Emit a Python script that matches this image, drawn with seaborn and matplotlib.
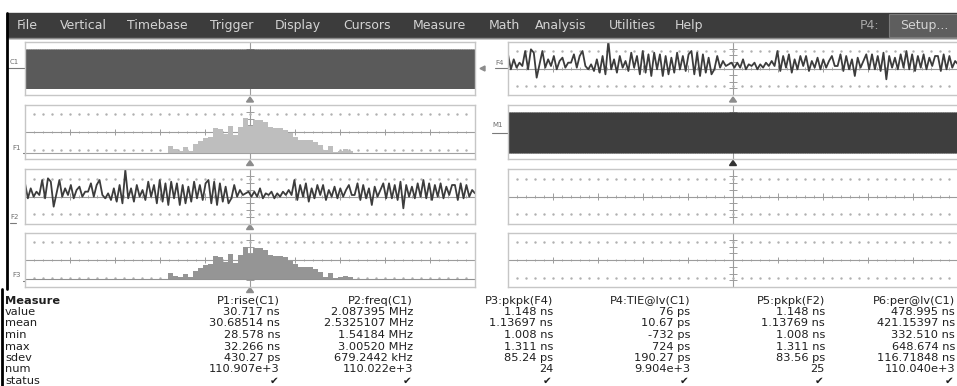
import numpy as np
import pandas as pd
import seaborn as sns
import matplotlib.pyplot as plt
from matplotlib.patches import Rectangle, Polygon

sns.set_style("white")
plt.rcParams['font.family'] = ['DejaVu Sans']

W, H = 957, 386

# ---- data ----
menu_items = ["File", "Vertical", "Timebase", "Trigger", "Display", "Cursors",
              "Measure", "Math", "Analysis", "Utilities", "Help"]

measure_params = ["P1:rise(C1)", "P2:freq(C1)", "P3:pkpk(F4)",
                  "P4:TIE@lv(C1)", "P5:pkpk(F2)", "P6:per@lv(C1)"]
row_names = ["value", "mean", "min", "max", "sdev", "num", "status"]
p_value = ["30.717 ns", "2.087395 MHz", "1.148 ns", "76 ps", "1.148 ns", "478.995 ns"]
p_mean = ["30.68514 ns", "2.5325107 MHz", "1.13697 ns", "10.67 ps", "1.13769 ns", "421.15397 ns"]
p_min = ["28.578 ns", "1.54184 MHz", "1.008 ns", "-732 ps", "1.008 ns", "332.510 ns"]
p_max = ["32.266 ns", "3.00520 MHz", "1.311 ns", "724 ps", "1.311 ns", "648.674 ns"]
p_sdev = ["430.27 ps", "679.2442 kHz", "85.24 ps", "190.27 ps", "83.56 ps", "116.71848 ns"]
p_num = ["110.907e+3", "110.022e+3", "24", "9.904e+3", "25", "110.040e+3"]
p_status = ["\u2714"] * 6

# TIE histogram (F1 / F3), counts per bin
hist_counts = [18, 10, 6, 16, 6, 26, 33, 43, 46, 70, 68, 53, 76, 50, 73, 98, 76, 93, 93,
               88, 73, 70, 70, 66, 56, 46, 36, 36, 36, 30, 23, 8, 18, 3, 6, 10, 6]
hist_start_ps = -730
hist_bin_ps = 44.5

# TIE track (F2 / F4), ps
tie_ps = [300, -150, 150, -100, 50,
          -50, 400, -150, 450, 350, -400,
          0, 400, -100, 150, -50, 250, -150, 100, 200, -100, 50,
          50, 300, -100, 250, 400, -50, -150,
          0, -200, 150, -250, 250, -300, 700, -150,
          150, -250, 250, -100, 100, -200, 350, -100,
          250, -300, 400, -250, 300, -350, 350, -150,
          300, -350, 250, -300, 200, -250, 350, -150, 250, -200, 300,
          400, -300, 350, -350, 300, -250, 200, -300, -150,
          250, -100, 100, -50, 0, 50, -100,
          50, -100, 150, -150, 0, -50, 50, -150, 0, -100, 50, -50, 100, -50,
          400, -200, 250, -100, 300, -250, 150, -150, 250,
          -50, 250, -200, 100, -100, 200, -150, 150, -100, 100, 250, -50,
          -50, 300, -200, 250, -150, 150, -350, 200, -100, 100, 300, -150,
          300, -150, 250, -200, 350, -450, 250, -100, 200, -150, 300, -100,
          400, -150, 300, -200, 250, -100, 300, -150, 200, -50, 250,
          250, -200, 300, -150, 250, -100, 100, 0]

# clock levels (C1 input, M1 memory)
c1_levels = [0.4, -0.4]
m1_levels = [1.0, -1.0]
n_cycles = 700

GRID = '#9c9c9c'
FRAME = '#c6c6c6'

fig = plt.figure(figsize=(W / 100, H / 100), dpi=100)
bg = fig.add_axes([0, 0, 1, 1])
bg.set_xlim(0, W)
bg.set_ylim(H, 0)
bg.axis('off')


def panel(x0, y0, x1, y1):
    ax = fig.add_axes([x0 / W, 1 - y1 / H, (x1 - x0) / W, (y1 - y0) / H])
    ax.set_xticks([])
    ax.set_yticks([])
    for s in ax.spines.values():
        s.set_color(FRAME)
        s.set_linewidth(1.0)
    t = ax.transAxes
    ax.plot([0, 1], [0.5, 0.5], color=GRID, lw=0.8, transform=t, zorder=1)
    ax.plot([0.5, 0.5], [0, 1], color=GRID, lw=0.8, transform=t, zorder=1)
    idx = np.arange(1, 50)
    xs = idx / 50
    ax.vlines(xs[idx % 5 != 0], 0.48, 0.52, colors=GRID, lw=0.6, transform=t, zorder=1)
    ax.vlines(xs[idx % 5 == 0], 0.44, 0.56, colors=GRID, lw=0.7, transform=t, zorder=1)
    ax.hlines([0.125, 0.25, 0.375, 0.625, 0.75, 0.875], 0.492, 0.508,
              colors=GRID, lw=0.7, transform=t, zorder=1)
    for yy in (0.175, 0.825):
        ax.plot(xs, np.full_like(xs, yy), ls='none', marker='s', ms=0.7,
                color='#b0b0b0', transform=t, zorder=1)
    return ax


def finish(ax):
    ax.set_xlabel('')
    ax.set_ylabel('')
    ax.set_xticks([])
    ax.set_yticks([])


def clock_frame(levels):
    v = np.tile(levels, n_cycles)
    return pd.DataFrame({'t': np.arange(len(v)), 'v': v})


tie_df = pd.DataFrame({'t': np.arange(len(tie_ps)), 'ps': tie_ps})
edges = list(hist_start_ps + hist_bin_ps * np.arange(len(hist_counts) + 1))
centers = [(a + b) / 2 for a, b in zip(edges[:-1], edges[1:])]
hist_df = pd.DataFrame({'ps': centers, 'n': hist_counts})

LX0, LX1 = 25, 475
RX0, RX1 = 508, 958
rows = [(42, 95), (105, 159), (169, 224), (233, 287)]

# C1
ax = panel(LX0, rows[0][0], LX1, rows[0][1])
c1 = clock_frame(c1_levels)
sns.lineplot(data=c1, x='t', y='v', ax=ax, color='#5a5a5a', lw=0.8, estimator=None)
ax.set_xlim(0, len(c1) - 1)
ax.set_ylim(-0.54, 0.567)
finish(ax)

# F1 histogram
ax = panel(LX0, rows[1][0], LX1, rows[1][1])
ax.axhline(0, color='#a0a0a0', lw=0.8, zorder=1)
sns.histplot(data=hist_df, x='ps', weights='n', bins=edges, ax=ax,
             color='#bebebe', alpha=1, linewidth=0, zorder=2)
ax.set_xlim(-2000, 2000)
ax.set_ylim(-18, 136)
finish(ax)

# F2 TIE track
ax = panel(LX0, rows[2][0], LX1, rows[2][1])
sns.lineplot(data=tie_df, x='t', y='ps', ax=ax, color='#3c3c3c', lw=1.3,
             estimator=None)
ax.set_xlim(0, len(tie_ps) - 1)
ax.set_ylim(-920, 730)
finish(ax)

# F3 histogram
ax = panel(LX0, rows[3][0], LX1, rows[3][1])
ax.axhline(0, color='#909090', lw=0.8, zorder=1)
sns.histplot(data=hist_df, x='ps', weights='n', bins=edges, ax=ax,
             color='#959595', alpha=1, linewidth=0, zorder=2)
ax.set_xlim(-2000, 2000)
ax.set_ylim(-23, 139)
finish(ax)

# F4 TIE track (right)
ax = panel(RX0, rows[0][0], RX1, rows[0][1])
sns.lineplot(data=tie_df, x='t', y='ps', ax=ax, color='#3c3c3c', lw=1.3,
             estimator=None)
ax.set_xlim(0, len(tie_ps) - 1)
ax.set_ylim(-920, 670)
finish(ax)

# M1
ax = panel(RX0, rows[1][0], RX1, rows[1][1])
m1 = clock_frame(m1_levels)
sns.lineplot(data=m1, x='t', y='v', ax=ax, color='#3e3e3e', lw=0.8, estimator=None)
ax.set_xlim(0, len(m1) - 1)
ax.set_ylim(-1.3, 1.4)
finish(ax)

# empty grids
for r in rows[2:]:
    ax = panel(RX0, r[0], RX1, r[1])
    ax.set_xlim(0, 1)
    ax.set_ylim(0, 1)

# ---- background chrome ----
bg.add_patch(Rectangle((7, 13), W - 7, 25, color='#3c3c3c', zorder=1))
bg.plot([7, W], [38, 38], color='#8a8a8a', lw=1, zorder=2)
bg.add_patch(Rectangle((889, 14), 70, 23, facecolor='#5e5e5e', edgecolor='#7a7a7a',
                       lw=0.8, zorder=2))
menu_x = [17, 60, 127, 210, 275, 343, 413, 489, 535, 609, 675]
for name, x in zip(menu_items, menu_x):
    bg.text(x, 25.5, name, color='#d4d4d4', fontsize=9, va='center', ha='left', zorder=3)
bg.text(860, 25.5, "P4:", color='#a8a8a8', fontsize=9, va='center', ha='left', zorder=3)
bg.text(900, 25.5, "Setup...", color='#d4d4d4', fontsize=9, va='center', ha='left', zorder=3)

bg.plot([7, 7], [13, 289], color='black', lw=2, zorder=3)
bg.plot([1.5, 1.5], [289, H], color='black', lw=2, zorder=3)


def tri_up(cx, cy, col):
    bg.add_patch(Polygon([(cx - 3.5, cy + 2.5), (cx + 3.5, cy + 2.5), (cx, cy - 2.5)],
                         closed=True, color=col, zorder=2))


for cy in (99.5, 163, 227, 290):
    tri_up(250, cy, '#8c8c8c')
tri_up(733, 99.5, '#8c8c8c')
tri_up(733, 163, '#333333')

lab = dict(color='#6e6e6e', fontsize=5, va='center', ha='left')
bg.text(10, 62.5, "C1", **lab)
bg.plot([8, 25], [67.5, 67.5], color='#7a7a7a', lw=0.8)
bg.text(495, 63, "F4", **lab)
bg.plot([495, 508], [68, 68], color='#7a7a7a', lw=0.8)
bg.add_patch(Polygon([(480, 68.5), (485, 66), (485, 71)], closed=True, color='#8c8c8c'))
bg.text(492, 125, "M1", **lab)
bg.plot([492, 508], [132.7, 132.7], color='#7a7a7a', lw=0.8)
bg.text(12, 148, "F1", **lab)
bg.plot([23, 25], [152.7, 152.7], color='#7a7a7a', lw=0.8)
bg.text(10, 217, "F2", **lab)
bg.plot([10, 16], [223, 223], color='#7a7a7a', lw=0.8)
bg.text(12, 275, "F3", **lab)
bg.plot([23, 25], [280.7, 280.7], color='#7a7a7a', lw=0.8)

# ---- measurement table ----
col_right = [280, 413, 553, 690, 825, 955]
row_y = [300.5, 312, 323.3, 335, 346.5, 357.8, 369, 380.5]
txt = dict(color='#1e1e1e', fontsize=8.2, va='center')
bg.text(5, row_y[0], "Measure", fontweight='bold', ha='left', **txt)
for name, y in zip(row_names, row_y[1:]):
    bg.text(5, y, name, ha='left', **txt)
table_rows = [measure_params, p_value, p_mean, p_min, p_max, p_sdev, p_num]
for vals, y in zip(table_rows, row_y):
    for v, x in zip(vals, col_right):
        bg.text(x, y, v, ha='right', **txt)
for v, x in zip(p_status, col_right):
    bg.text(x - 1, row_y[-1], v, ha='right', color='#1e1e1e', fontsize=7.5, va='center')

fig.savefig("out.png", dpi=100)
